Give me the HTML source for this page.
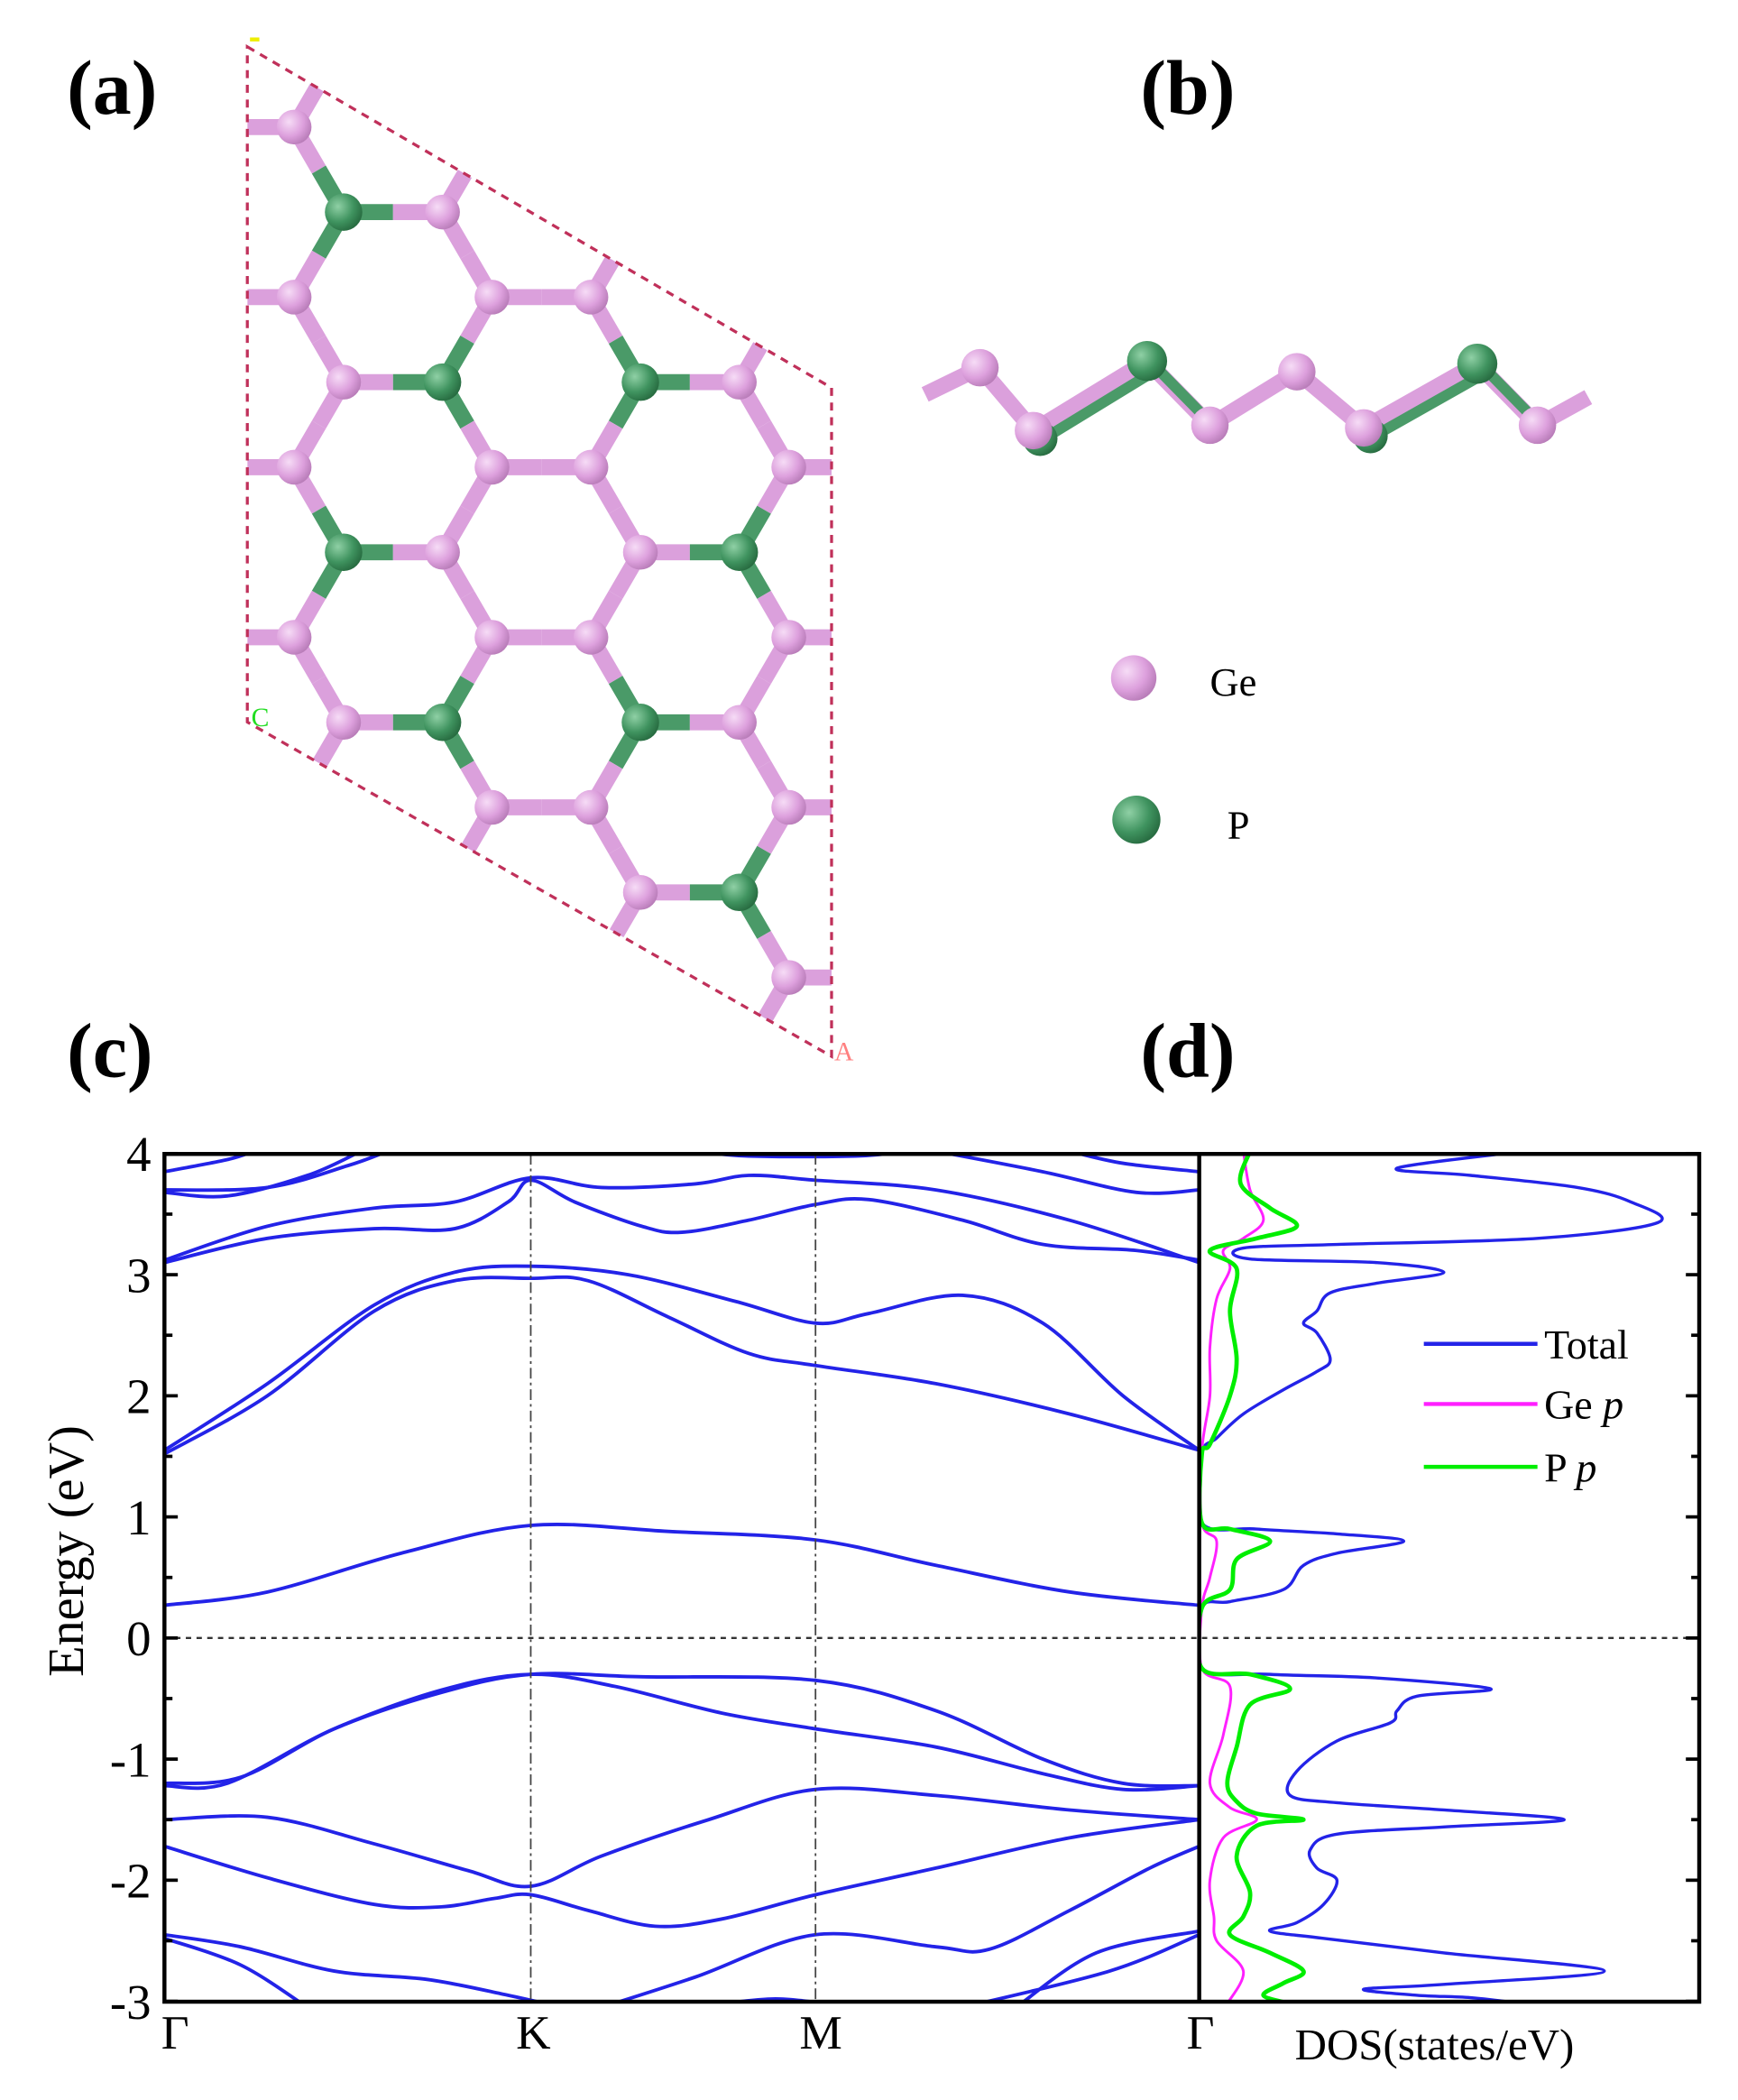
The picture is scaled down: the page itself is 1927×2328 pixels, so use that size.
<!DOCTYPE html>
<html><head><meta charset="utf-8">
<style>
html,body{margin:0;padding:0;background:#fff;}
svg{display:block;}
text{font-family:"Liberation Serif",serif;}
</style></head>
<body>
<svg id="s" width="1927" height="2328" viewBox="0 0 1300 1570.5" xmlns="http://www.w3.org/2000/svg">
<defs>
<radialGradient id="ge" cx="0.35" cy="0.35" r="0.7"><stop offset="0" stop-color="#f6dcf6"/><stop offset="0.6" stop-color="#dda0dd"/><stop offset="1" stop-color="#b87cb8"/></radialGradient>
<radialGradient id="pp" cx="0.35" cy="0.35" r="0.7"><stop offset="0" stop-color="#8fd0a5"/><stop offset="0.6" stop-color="#3f935f"/><stop offset="1" stop-color="#276b40"/></radialGradient>
<clipPath id="cell"><polygon points="185,35 622,290 622,790 185,540"/></clipPath>
<clipPath id="plot"><rect x="123" y="863" width="774" height="634"/></clipPath>
<clipPath id="dplot"><rect x="897" y="863" width="374" height="634"/></clipPath>
</defs>
<g font-weight="bold" font-size="58">
<text x="50" y="85">(a)</text><text x="853" y="85">(b)</text>
<text x="50" y="805">(c)</text><text x="853" y="805">(d)</text>
</g>
<g id="lat" clip-path="url(#cell)"></g>
<polygon points="185,35 622,290 622,790 185,540" fill="none" stroke="#c0305a" stroke-width="2.2" stroke-dasharray="6,5"/>
<text x="188" y="543" font-family="Liberation Sans" font-size="20" fill="#22dd22">C</text>
<text x="624" y="793" font-family="Liberation Sans" font-size="20" fill="#ff8080">A</text>
<rect x="187" y="28" width="7" height="3" fill="#ee0"/>
<g id="side"></g>
<circle cx="848" cy="507" r="17" fill="url(#ge)"/><text x="905" y="520" font-size="30">Ge</text>
<circle cx="850" cy="613" r="18" fill="url(#pp)"/><text x="918" y="627" font-size="30">P</text>
<g id="bands"></g>
</svg>
<script>
var NS="http://www.w3.org/2000/svg",S=document.getElementById('s');
function el(p,t,a){var e=document.createElementNS(NS,t);for(var k in a)e.setAttribute(k,a[k]);p.appendChild(e);return e;}
var lat=document.getElementById('lat'),a=74,h=63.6,atoms=[];
for(var r=-2;r<14;r++){var y=95+h*r;for(var k=-2;k<5;k++){
 if(r%2==0){atoms.push({x:220+3*a*k,y:y,r:r,p:false});atoms.push({x:220+2*a+3*a*k,y:y,r:r,p:false});}
 else{var base=257+3*a*k;var c0=2*k,c1=2*k+1;var m=((r%4)+4)%4;
  function isP(c){c=((c%4)+4)%4;return m==1?(c==0||c==3):(c==1||c==2);}
  atoms.push({x:base,y:y,r:r,p:isP(c0)});atoms.push({x:base+a,y:y,r:r,p:isP(c1)});}}}
var gb=el(lat,'g',{}),ga=el(lat,'g',{});
for(var i=0;i<atoms.length;i++)for(var j=i+1;j<atoms.length;j++){var A=atoms[i],B=atoms[j];var d=Math.hypot(A.x-B.x,A.y-B.y);
 if(d<a*1.08&&d>a*0.6){var mx=(A.x+B.x)/2,my=(A.y+B.y)/2;
  el(gb,'line',{x1:A.x,y1:A.y,x2:mx,y2:my,stroke:A.p?'#4a9a68':'#dba0dc','stroke-width':12});
  el(gb,'line',{x1:B.x,y1:B.y,x2:mx,y2:my,stroke:B.p?'#4a9a68':'#dba0dc','stroke-width':12});}}
atoms.forEach(function(A){el(ga,'circle',{cx:A.x,cy:A.y,r:A.p?14:13,fill:A.p?'url(#pp)':'url(#ge)'});});
var sd=document.getElementById('side');
var zz=[[692,295,0],[733,275,0],[773,322,0],[858,270,1],[905,318,0],[970,278,0],[1020,320,0],[1105,272,1],[1150,318,0],[1188,297,0]];
for(var i=0;i<zz.length-1;i++){var A=zz[i],B=zz[i+1];var g=(A[2]||B[2]);
 el(sd,'line',{x1:A[0],y1:A[1],x2:B[0],y2:B[1],stroke:'#dba0dc','stroke-width':12});
 if(g)el(sd,'line',{x1:A[0]+8,y1:A[1]+6,x2:B[0]+8,y2:B[1]+6,stroke:'#4a9a68','stroke-width':8});}
[[778,328,1],[1025,326,1]].forEach(function(p){el(sd,'circle',{cx:p[0],cy:p[1],r:13,fill:'url(#pp)'});});
zz.slice(1,9).forEach(function(p){el(sd,'circle',{cx:p[0],cy:p[1],r:p[2]?15:14,fill:p[2]?'url(#pp)':'url(#ge)'});});
var bg=document.getElementById('bands');
function Y(E){return 1225-90.57*E;}
function cr(pts){var d='M'+pts[0][0]+','+pts[0][1];for(var i=0;i<pts.length-1;i++){var p0=pts[i-1]||pts[i],p1=pts[i],p2=pts[i+1],p3=pts[i+2]||p2;
 d+=' C'+(p1[0]+(p2[0]-p0[0])/6)+','+(p1[1]+(p2[1]-p0[1])/6)+' '+(p2[0]-(p3[0]-p1[0])/6)+','+(p2[1]-(p3[1]-p1[1])/6)+' '+p2[0]+','+p2[1];}return d;}
var B=[
[[123,0.27],[200,0.38],[300,0.7],[397,0.93],[500,0.88],[610,0.81],[700,0.6],[800,0.38],[897,0.27]],
[[123,1.55],[200,2.1],[280,2.75],[340,3.02],[397,3.07],[470,3.0],[550,2.78],[610,2.6],[650,2.68],[720,2.83],[780,2.6],[840,2.0],[897,1.55]],
[[123,1.52],[200,2.0],[280,2.7],[340,2.95],[397,2.97],[440,2.95],[500,2.65],[560,2.35],[610,2.25],[700,2.1],[800,1.85],[897,1.55]],
[[123,3.1],[200,3.3],[280,3.38],[340,3.38],[380,3.6],[397,3.78],[430,3.6],[480,3.4],[510,3.35],[560,3.45],[610,3.58],[650,3.62],[720,3.45],[780,3.25],[850,3.2],[897,3.12]],
[[123,3.12],[200,3.4],[280,3.55],[340,3.6],[397,3.8],[450,3.72],[520,3.75],[560,3.82],[610,3.78],[700,3.7],[800,3.45],[897,3.1]],
[[123,3.7],[200,3.72],[260,3.9],[290,4.02]],
[[123,3.85],[170,3.95],[190,4.02]],
[[123,3.68],[170,3.65],[230,3.82],[270,4.02]],
[[897,3.7],[850,3.68],[780,3.85],[700,4.02]],
[[897,3.85],[840,3.92],[800,4.02]],
[[520,4.02],[560,3.98],[640,3.98],[680,4.02]],
[[123,-1.22],[170,-1.2],[250,-0.75],[330,-0.45],[397,-0.3],[480,-0.32],[610,-0.35],[700,-0.6],[780,-1.0],[840,-1.2],[897,-1.22]],
[[123,-1.2],[180,-1.15],[250,-0.75],[330,-0.43],[397,-0.3],[460,-0.4],[540,-0.62],[610,-0.75],[700,-0.9],[780,-1.12],[840,-1.25],[897,-1.22]],
[[123,-1.5],[200,-1.48],[280,-1.7],[350,-1.92],[397,-2.05],[450,-1.8],[530,-1.5],[610,-1.25],[700,-1.3],[800,-1.42],[897,-1.5]],
[[123,-1.72],[200,-1.98],[280,-2.2],[330,-2.22],[370,-2.15],[397,-2.12],[440,-2.25],[490,-2.38],[540,-2.32],[610,-2.12],[700,-1.9],[800,-1.65],[897,-1.5]],
[[123,-2.45],[180,-2.55],[250,-2.75],[320,-2.82],[380,-2.95],[420,-3.05]],
[[123,-2.48],[180,-2.7],[230,-3.05]],
[[450,-3.05],[520,-2.8],[610,-2.45],[700,-2.55],[740,-2.57],[800,-2.25],[860,-1.9],[897,-1.72]],
[[897,-2.42],[820,-2.6],[760,-3.05]],
[[897,-2.45],[830,-2.75],[720,-3.05]],
[[540,-3.02],[580,-2.98],[620,-3.02]]
];
var pg=el(bg,'g',{'clip-path':'url(#plot)'});
B.forEach(function(b){el(pg,'path',{d:cr(b.map(function(p){return[p[0],Y(p[1])];})),fill:'none',stroke:'#2323e8','stroke-width':2.6});});
el(bg,'line',{x1:397,y1:863,x2:397,y2:1497,stroke:'#444','stroke-width':1.2,'stroke-dasharray':'8,3,2,3'});
el(bg,'line',{x1:610,y1:863,x2:610,y2:1497,stroke:'#444','stroke-width':1.2,'stroke-dasharray':'8,3,2,3'});
el(bg,'line',{x1:123,y1:1225,x2:1271,y2:1225,stroke:'#333','stroke-width':1.6,'stroke-dasharray':'4,4'});
var dg=el(bg,'g',{'clip-path':'url(#dplot)'});
function dos(pts,c,w){el(dg,'path',{d:cr(pts.map(function(p){return[p[0],Y(p[1])];})),fill:'none',stroke:c,'stroke-width':w});}
dos([[1140,4.02],[1045,3.88],[1100,3.82],[1180,3.72],[1220,3.6],[1240,3.43],[1150,3.3],[1000,3.25],[930,3.22],[935,3.13],[1030,3.1],[1080,3.02],[1030,2.93],[995,2.85],[985,2.7],[975,2.6],[985,2.52],[995,2.3],[985,2.2],[960,2.05],[930,1.85],[910,1.65],[899,1.52],[899,0.95],[940,0.9],[1000,0.86],[1050,0.8],[1000,0.7],[975,0.6],[960,0.4],[920,0.3],[899,0.25],[899,-0.25],[950,-0.3],[1030,-0.33],[1115,-0.42],[1060,-0.48],[1045,-0.6],[1040,-0.7],[1000,-0.85],[970,-1.1],[965,-1.3],[1000,-1.36],[1080,-1.42],[1170,-1.5],[1080,-1.56],[1000,-1.62],[980,-1.75],[985,-1.9],[1000,-2.0],[990,-2.2],[970,-2.35],[950,-2.42],[990,-2.48],[1080,-2.6],[1200,-2.75],[1080,-2.86],[1020,-2.9],[1060,-2.95],[1100,-2.97],[1140,-3.02]],'#2323e8',2.3);
dos([[930,4.02],[935,3.7],[945,3.45],[930,3.3],[915,3.2],[920,3.05],[910,2.8],[905,2.4],[905,2.0],[899,1.55],[899,0.95],[910,0.8],[905,0.5],[899,0.25],[899,-0.25],[920,-0.4],[915,-0.8],[905,-1.2],[920,-1.4],[940,-1.5],[915,-1.65],[905,-2.0],[908,-2.3],[910,-2.5],[930,-2.75],[918,-3.02]],'#ff20ff',2);
dos([[935,4.02],[928,3.75],[950,3.55],[970,3.4],[940,3.3],[905,3.2],[925,3.05],[920,2.7],[925,2.3],[920,2.0],[905,1.6],[899,1.52],[899,0.95],[920,0.9],[950,0.8],[925,0.65],[920,0.4],[899,0.25],[899,-0.25],[935,-0.3],[965,-0.42],[935,-0.55],[925,-0.9],[918,-1.2],[925,-1.35],[940,-1.45],[975,-1.5],[940,-1.55],[925,-1.8],[935,-2.1],[930,-2.3],[920,-2.45],[950,-2.6],[975,-2.75],[960,-2.85],[945,-2.95],[965,-3.02]],'#00ee00',3.2);
el(bg,'rect',{x:123,y:863,width:1148,height:634,fill:'none',stroke:'#000','stroke-width':3});
el(bg,'line',{x1:897,y1:863,x2:897,y2:1497,stroke:'#000','stroke-width':3});
for(var e=-3;e<=4;e+=0.5){var y=Y(e),L=(e%1==0)?10:6;
 el(bg,'line',{x1:123,y1:y,x2:123+L,y2:y,stroke:'#000','stroke-width':2.5});
 el(bg,'line',{x1:1271,y1:y,x2:1271-L,y2:y,stroke:'#000','stroke-width':2.5});
 if(e%1==0){var t=el(bg,'text',{x:113,y:y+13,'font-size':37,'text-anchor':'end'});t.textContent=(e<0?'-':'')+Math.abs(e);}}
var yl=el(bg,'text',{x:0,y:0,'font-size':38,'text-anchor':'middle',transform:'translate(62,1160) rotate(-90)'});yl.textContent='Energy (eV)';
[['Γ',131],['K',399],['M',614],['Γ',898]].forEach(function(l){var t=el(bg,'text',{x:l[1],y:1532,'font-size':36,'text-anchor':'middle'});t.textContent=l[0];});
var dl=el(bg,'text',{x:1073,y:1540,'font-size':33,'text-anchor':'middle'});dl.textContent='DOS(states/eV)';
[['#2323e8',1005,'Total',''],['#ff20ff',1050,'Ge ','p'],['#00ee00',1097,'P ','p']].forEach(function(l){
 el(bg,'line',{x1:1065,y1:l[1],x2:1150,y2:l[1],stroke:l[0],'stroke-width':3});
 var t=el(bg,'text',{x:1155,y:l[1]+11,'font-size':31});t.textContent=l[2];
 if(l[3]){var s=el(t,'tspan',{'font-style':'italic'});s.textContent=l[3];}});
</script>
</body></html>
